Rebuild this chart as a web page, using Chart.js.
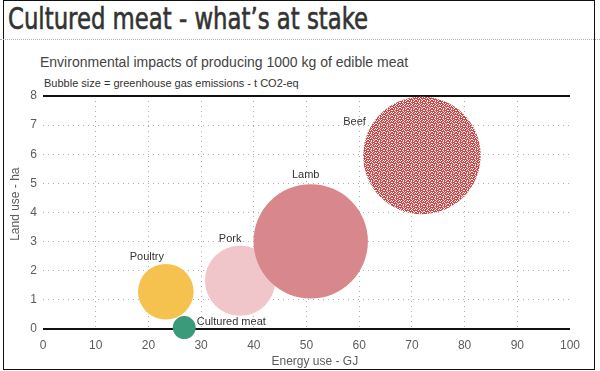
<!DOCTYPE html>
<html>
<head>
<meta charset="utf-8">
<script src="https://cdn.jsdelivr.net/npm/chart.js@4/dist/chart.umd.min.js"></script>
<style>
  html, body { margin: 0; padding: 0; background: #fff; }
  #wrap { position: relative; width: 600px; height: 371px; overflow: hidden; }
  #frame { position: absolute; left: 3px; top: 0; width: 590px; height: 368px; border: 1px solid #111; }
  #sep { position: absolute; left: 0; top: 39px; width: 600px; border-top: 1px dotted #a9b3a6; }
  h1 { position: absolute; left: 8px; top: 0px; margin: 0; font: 31px 'Liberation Sans Narrow', 'DejaVu Sans Condensed', sans-serif;
       color: #333; -webkit-text-stroke: 0.6px #333; white-space: nowrap; transform-origin: 0 0; }
  .sub { position: absolute; margin: 0; font-family: 'Liberation Sans', Arial, sans-serif; color: #444; white-space: nowrap; }
  #sub1 { left: 40px; top: 54px; font-size: 14px; }
  #sub2 { left: 44px; top: 77px; font-size: 11px; color: #333; }
  canvas { position: absolute; left: 0; top: 0; }
</style>
</head>
<body>
<div id="wrap">
  <div id="frame"></div>
  <h1 id="head">Cultured meat - what’s at stake</h1>
  <div id="sep"></div>
  <p class="sub" id="sub1">Environmental impacts of producing 1000 kg of edible meat</p>
  <p class="sub" id="sub2">Bubble size = greenhouse gas emissions - t CO2-eq</p>
  <canvas id="chart" width="600" height="371"></canvas>
</div>
<script>
const products = ['Cultured meat', 'Poultry', 'Pork', 'Lamb', 'Beef'];
const energyUse = [26.8, 23.3, 37.4, 50.8, 71.9];   // GJ
const landUse = [0.05, 1.28, 1.66, 3.01, 5.96];     // ha
const emissions = [2, 11.7, 18.7, 49.5, 52.2];      // t CO2-eq
const xTicks = [0, 10, 20, 30, 40, 50, 60, 70, 80, 90, 100];
const yTicks = [0, 1, 2, 3, 4, 5, 6, 7, 8];

// squeeze the heading to the narrow width of the original
const head = document.getElementById('head');
head.style.transform = 'scaleX(' + (360 / head.getBoundingClientRect().width) + ')';

const colors = ['#3b9a79', '#f6c24f', '#f1c6cb', '#d8878d', null];
// where each label sits next to its bubble
const labelPlace = [
  { side: 'right', dx: 1, dy: -6 },
  { side: 'top', dx: -19, dy: 7 },
  { side: 'top', dx: -10, dy: 7 },
  { side: 'top', dx: -5, dy: 9 },
  { side: 'upleft', dx: -56, dy: -33 }
];

// beef is drawn dithered red/white like the original
function beefPattern() {
  const rows = [
    'RWRRWRRW',
    'WRRWRRWR',
    'RRWRWRRR',
    'WRRRRWRW',
    'RWRWRRWR',
    'RRRWRWRR',
    'WRWRRRRW',
    'RRRWRWRR'
  ];
  const c = document.createElement('canvas');
  c.width = 8; c.height = 8;
  const g = c.getContext('2d');
  rows.forEach((row, y) => {
    [...row].forEach((ch, x) => {
      g.fillStyle = ch === 'W' ? '#ffffff' : ((x + y) % 3 === 0 ? '#dc5050' : '#cd4042');
      g.fillRect(x, y, 1, 1);
    });
  });
  return g.createPattern(c, 'repeat');
}
colors[4] = beefPattern();

const radiusOf = v => 8.13 * Math.sqrt(v);

const frameLines = {
  id: 'frameLines',
  beforeDatasetsDraw(chart) {
    const { ctx, chartArea, scales } = chart;
    ctx.save();
    ctx.strokeStyle = '#111';
    ctx.lineWidth = 2;
    [0, 8].forEach(v => {
      const y = Math.round(scales.y.getPixelForValue(v));
      ctx.beginPath();
      ctx.moveTo(chartArea.left, y);
      ctx.lineTo(chartArea.right, y);
      ctx.stroke();
    });
    ctx.restore();
  }
};

const bubbleLabels = {
  id: 'bubbleLabels',
  afterDatasetsDraw(chart) {
    const { ctx } = chart;
    const meta = chart.getDatasetMeta(0);
    ctx.save();
    ctx.font = '11px "Liberation Sans", Arial, sans-serif';
    ctx.fillStyle = '#333';
    ctx.textBaseline = 'middle';
    meta.data.forEach((el, i) => {
      const r = el.options.radius;
      const p = labelPlace[i];
      if (p.side === 'right') {
        ctx.textAlign = 'left';
        ctx.fillText(products[i], el.x + r + p.dx, el.y + p.dy);
      } else if (p.side === 'top') {
        ctx.textAlign = 'center';
        ctx.fillText(products[i], el.x + p.dx, el.y - r - p.dy);
      } else {
        ctx.textAlign = 'right';
        ctx.fillText(products[i], el.x + p.dx, el.y + p.dy);
      }
    });
    ctx.restore();
  }
};

const tickFont = { family: '"Liberation Sans", Arial, sans-serif', size: 12 };
const gridDots = '#b3a9b5';

new Chart(document.getElementById('chart'), {
  type: 'bubble',
  data: {
    datasets: [{
      data: products.map((p, i) => ({ x: energyUse[i], y: landUse[i], r: radiusOf(emissions[i]) })),
      backgroundColor: colors,
      borderWidth: 0,
      hoverRadius: 0,
      clip: false
    }]
  },
  options: {
    responsive: false,
    animation: false,
    events: [],
    layout: { autoPadding: false, padding: { left: 3, right: 30, top: 96, bottom: 0 } },
    plugins: { legend: { display: false }, tooltip: { enabled: false } },
    scales: {
      x: {
        type: 'linear', min: 0, max: 100,
        afterFit: s => { s.height = 42; },
        afterBuildTicks: s => { s.ticks = xTicks.map(v => ({ value: v })); },
        ticks: { color: '#5c5c5c', font: tickFont, padding: 9, maxRotation: 0 },
        grid: {
          drawTicks: false,
          color: c => (c.tick && (c.tick.value === 0 || c.tick.value === 100)) ? 'rgba(0,0,0,0)' : gridDots
        },
        border: { display: false, dash: [1, 4] },
        title: { display: true, text: '     Energy use - GJ', color: '#5c5c5c', font: tickFont, padding: { top: 0, bottom: 2 } }
      },
      y: {
        type: 'linear', min: 0, max: 8,
        afterFit: s => { s.width = 40; },
        afterBuildTicks: s => { s.ticks = yTicks.map(v => ({ value: v })); },
        ticks: { color: '#5c5c5c', font: tickFont, padding: 6 },
        grid: {
          drawTicks: false,
          color: c => (c.tick && (c.tick.value === 0 || c.tick.value === 8)) ? 'rgba(0,0,0,0)' : gridDots
        },
        border: { display: false, dash: [1, 4] },
        title: { display: true, text: '     Land use - ha', color: '#5c5c5c', font: tickFont, padding: { top: 5, bottom: 0 } }
      }
    }
  },
  plugins: [frameLines, bubbleLabels]
});
</script>
</body>
</html>
